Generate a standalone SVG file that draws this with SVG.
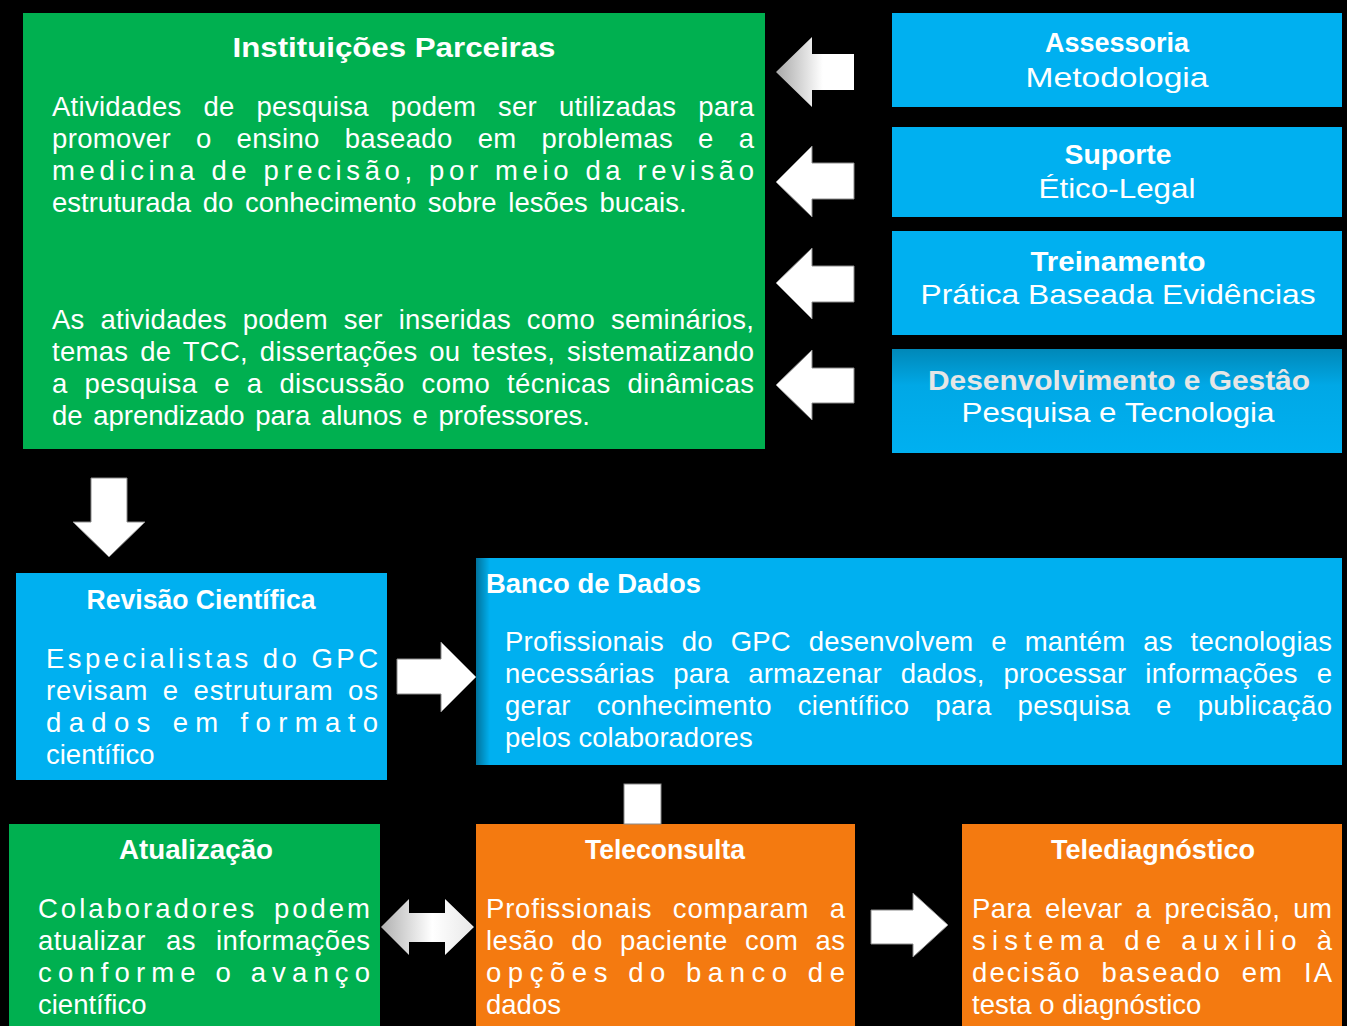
<svg xmlns="http://www.w3.org/2000/svg" width="1347" height="1026" viewBox="0 0 1347 1026">
<style>
text{font-family:"Liberation Sans","DejaVu Sans",sans-serif;fill:#fff}
.t{font-weight:bold;font-size:27px}
.h{font-size:28px}
.b{font-size:27.5px}
.green{fill:#00B050}
.blue{fill:#00B0F0}
.orange{fill:#F47A10}
.arr{fill:#fff;stroke:#8a8a8a;stroke-width:1}
</style>
<defs>
<linearGradient id="gl" x1="0" y1="0" x2="1" y2="0">
<stop offset="0" stop-color="#a8a8a8"/><stop offset="0.6" stop-color="#fff"/><stop offset="1" stop-color="#fff"/>
</linearGradient>
<linearGradient id="gd" x1="0" y1="0" x2="1" y2="0">
<stop offset="0" stop-color="#b0b0b0"/><stop offset="0.55" stop-color="#fff"/><stop offset="1" stop-color="#e8e8e8"/>
</linearGradient>
<linearGradient id="gb4" x1="0" y1="0" x2="0" y2="1">
<stop offset="0" stop-color="#0088B8"/><stop offset="0.35" stop-color="#00A8E6"/><stop offset="1" stop-color="#00B0F0"/>
</linearGradient>
<linearGradient id="gsh" x1="0" y1="0" x2="1" y2="0">
<stop offset="0" stop-color="#000" stop-opacity="0.35"/><stop offset="1" stop-color="#000" stop-opacity="0"/>
</linearGradient>
</defs>
<rect width="1347" height="1026" fill="#000"/>

<g id="instituicoes">
<rect class="green" x="23" y="13" width="742" height="436"/>
<text class="t" x="394" y="57" text-anchor="middle" font-size="29" textLength="323" lengthAdjust="spacingAndGlyphs">Instituições Parceiras</text>
<text class="b" x="52" y="116" word-spacing="14" textLength="702" lengthAdjust="spacing">Atividades de pesquisa podem ser utilizadas para</text>
<text class="b" x="52" y="148" word-spacing="17" textLength="702" lengthAdjust="spacing">promover o ensino baseado em problemas e a</text>
<text class="b" x="52" y="180" textLength="702" lengthAdjust="spacing">medicina de precisão, por meio da revisão</text>
<text class="b" x="52" y="212" word-spacing="4">estruturada do conhecimento sobre lesões bucais.</text>
<text class="b" x="52" y="329" word-spacing="8" textLength="702" lengthAdjust="spacing">As atividades podem ser inseridas como seminários,</text>
<text class="b" x="52" y="361" word-spacing="4" textLength="702" lengthAdjust="spacing">temas de TCC, dissertações ou testes, sistematizando</text>
<text class="b" x="52" y="393" word-spacing="9" textLength="702" lengthAdjust="spacing">a pesquisa e  a discussão como técnicas dinâmicas</text>
<text class="b" x="52" y="425" word-spacing="3">de aprendizado  para alunos e professores.</text>
</g>

<g id="assessoria">
<rect class="blue" x="892" y="13" width="450" height="94"/>
<text class="t h" x="1117" y="52" text-anchor="middle" textLength="144" lengthAdjust="spacingAndGlyphs">Assessoria</text>
<text class="h" x="1117" y="87" text-anchor="middle" textLength="183" lengthAdjust="spacingAndGlyphs">Metodologia</text>
</g>
<g id="suporte">
<rect class="blue" x="892" y="127" width="450" height="90"/>
<text class="t h" x="1118" y="164" text-anchor="middle" textLength="107" lengthAdjust="spacingAndGlyphs">Suporte</text>
<text class="h" x="1117" y="198" text-anchor="middle" textLength="157" lengthAdjust="spacingAndGlyphs">Ético-Legal</text>
</g>
<g id="treinamento">
<rect class="blue" x="892" y="231" width="450" height="104"/>
<text class="t h" x="1118" y="271" text-anchor="middle" textLength="175" lengthAdjust="spacingAndGlyphs">Treinamento</text>
<text class="h" x="1118" y="304" text-anchor="middle" textLength="395" lengthAdjust="spacingAndGlyphs">Prática Baseada Evidências</text>
</g>
<g id="desenvolvimento">
<rect x="892" y="349" width="450" height="104" fill="url(#gb4)"/>
<text class="t h" x="1119" y="390" text-anchor="middle" textLength="382" lengthAdjust="spacingAndGlyphs" style="fill:#e6e6e6">Desenvolvimento e Gestâo</text>
<text class="h" x="1118" y="422" text-anchor="middle" textLength="313" lengthAdjust="spacingAndGlyphs">Pesquisa e Tecnologia</text>
</g>

<g id="revisao">
<rect class="blue" x="16" y="573" width="371" height="207"/>
<text class="t" x="201" y="609" text-anchor="middle" font-size="24" textLength="229" lengthAdjust="spacingAndGlyphs">Revisão Científica</text>
<text class="b" x="46" y="668" textLength="332" lengthAdjust="spacing">Especialistas do GPC</text>
<text class="b" x="46" y="700" word-spacing="6" textLength="332" lengthAdjust="spacing">revisam e estruturam os</text>
<text class="b" x="46" y="732" textLength="332" lengthAdjust="spacing">dados em formato</text>
<text class="b" x="46" y="764">científico</text>
</g>

<g id="banco">
<rect class="blue" x="476" y="558" width="866" height="207"/>
<rect x="476" y="558" width="14" height="207" fill="url(#gsh)"/>
<text class="t" x="486" y="593" font-size="24" textLength="215" lengthAdjust="spacingAndGlyphs">Banco de Dados</text>
<text class="b" x="505" y="651" word-spacing="10" textLength="827" lengthAdjust="spacing">Profissionais do GPC desenvolvem e mantém as tecnologias</text>
<text class="b" x="505" y="683" word-spacing="11" textLength="827" lengthAdjust="spacing">necessárias para armazenar dados, processar informações e</text>
<text class="b" x="505" y="715" word-spacing="18" textLength="827" lengthAdjust="spacing">gerar conhecimento científico para pesquisa e publicação</text>
<text class="b" x="505" y="747">pelos colaboradores</text>
</g>

<g id="atualizacao">
<rect class="green" x="9" y="824" width="371" height="202"/>
<text class="t" x="196" y="859" text-anchor="middle" font-size="24" textLength="154" lengthAdjust="spacingAndGlyphs">Atualização</text>
<text class="b" x="38" y="918" word-spacing="6" textLength="332" lengthAdjust="spacing">Colaboradores podem</text>
<text class="b" x="38" y="950" word-spacing="12" textLength="332" lengthAdjust="spacing">atualizar as informações</text>
<text class="b" x="38" y="982" textLength="332" lengthAdjust="spacing">conforme o avanço</text>
<text class="b" x="38" y="1014">científico</text>
</g>

<g id="teleconsulta">
<rect class="orange" x="476" y="824" width="379" height="202"/>
<text class="t" x="665" y="859" text-anchor="middle" font-size="24" textLength="160" lengthAdjust="spacingAndGlyphs">Teleconsulta</text>
<text class="b" x="486" y="918" word-spacing="12" textLength="359" lengthAdjust="spacing">Profissionais comparam a</text>
<text class="b" x="486" y="950" word-spacing="9" textLength="359" lengthAdjust="spacing">lesão do paciente com as</text>
<text class="b" x="486" y="982" textLength="359" lengthAdjust="spacing">opções do banco de</text>
<text class="b" x="486" y="1014">dados</text>
</g>

<g id="telediagnostico">
<rect class="orange" x="962" y="824" width="380" height="202"/>
<text class="t" x="1153" y="859" text-anchor="middle" font-size="24" textLength="204" lengthAdjust="spacingAndGlyphs">Telediagnóstico</text>
<text class="b" x="972" y="918" word-spacing="5" textLength="360" lengthAdjust="spacing">Para elevar a precisão, um</text>
<text class="b" x="972" y="950" textLength="360" lengthAdjust="spacing">sistema de auxilio à</text>
<text class="b" x="972" y="982" word-spacing="10" textLength="360" lengthAdjust="spacing">decisão baseado em IA</text>
<text class="b" x="972" y="1014">testa o diagnóstico</text>
</g>

<g id="connectors">
<polygon points="776,72 812,37 812,54 854,54 854,90 812,90 812,107" fill="url(#gl)"/>
<polygon class="arr" points="776,182 812,146 812,163 854,163 854,199 812,199 812,217"/>
<polygon class="arr" points="776,283 812,248 812,266 854,266 854,302 812,302 812,319"/>
<polygon class="arr" points="776,385 812,350 812,368 854,368 854,403 812,403 812,420"/>
<polygon class="arr" points="91,478 127,478 127,522 145,522 109,557 73,522 91,522"/>
<polygon class="arr" points="397,659 441,659 441,642 476,677 441,712 441,694 397,694"/>
<rect class="arr" x="624" y="784" width="37" height="40"/>
<polygon points="381,927 409,899 409,913 445,913 445,899 474,927 445,955 445,942 409,942 409,955" fill="url(#gd)"/>
<polygon class="arr" points="871,910 913,910 913,893 948,925 913,957 913,944 871,944"/>
</g>
</svg>
